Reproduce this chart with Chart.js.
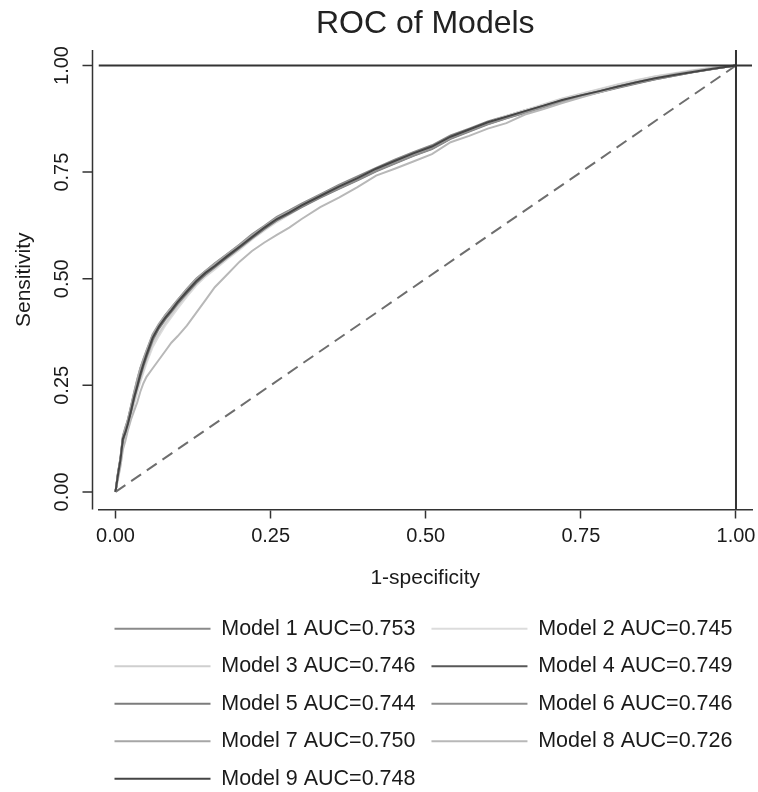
<!DOCTYPE html>
<html>
<head>
<meta charset="utf-8">
<title>ROC of Models</title>
<script src="https://cdn.jsdelivr.net/npm/chart.js@4.4.1/dist/chart.umd.min.js"></script>
<style>
  html, body { margin: 0; padding: 0; background: #fff; }
  canvas { display: block; }
</style>
</head>
<body>
<canvas id="rocChart" width="758" height="792"></canvas>
<script>
// 1-specificity values shared by every curve
const fpr = [0, 0.004, 0.008, 0.012, 0.016, 0.02, 0.025, 0.03, 0.035, 0.04, 0.045, 0.05,
  0.06, 0.07, 0.08, 0.09, 0.10, 0.115, 0.13, 0.145, 0.16, 0.18, 0.20, 0.22, 0.24, 0.26,
  0.28, 0.30, 0.33, 0.36, 0.39, 0.42, 0.45, 0.48, 0.51, 0.54, 0.57, 0.60, 0.63, 0.66,
  0.69, 0.72, 0.75, 0.78, 0.81, 0.84, 0.87, 0.90, 0.93, 0.96, 0.98, 1.0];

// sensitivity for each model at the fpr values above
const tprModel1 = [0, 0.045, 0.08, 0.13, 0.15, 0.17, 0.2, 0.232, 0.262, 0.29, 0.31, 0.33,
  0.368, 0.392, 0.414, 0.432, 0.45, 0.476, 0.5, 0.518, 0.536, 0.558, 0.58, 0.604, 0.624, 0.645,
  0.66, 0.676, 0.698, 0.72, 0.74, 0.76, 0.779, 0.797, 0.813, 0.836, 0.852, 0.869, 0.882, 0.895,
  0.907, 0.92, 0.931, 0.941, 0.952, 0.962, 0.971, 0.979, 0.986, 0.993, 0.997, 1];
const tprModel2 = [0, 0.035, 0.065, 0.11, 0.13, 0.15, 0.178, 0.205, 0.232, 0.258, 0.28, 0.302,
  0.34, 0.366, 0.39, 0.41, 0.43, 0.458, 0.484, 0.505, 0.522, 0.546, 0.568, 0.592, 0.613, 0.633,
  0.65, 0.668, 0.69, 0.712, 0.733, 0.754, 0.772, 0.79, 0.807, 0.83, 0.848, 0.866, 0.882, 0.895,
  0.909, 0.923, 0.934, 0.945, 0.956, 0.966, 0.975, 0.982, 0.989, 0.995, 0.998, 1];
const tprModel3 = [0, 0.038, 0.07, 0.115, 0.135, 0.155, 0.182, 0.21, 0.238, 0.262, 0.285, 0.308,
  0.348, 0.372, 0.395, 0.415, 0.436, 0.462, 0.488, 0.508, 0.525, 0.549, 0.571, 0.594, 0.616, 0.636,
  0.652, 0.669, 0.692, 0.713, 0.734, 0.755, 0.773, 0.791, 0.808, 0.831, 0.849, 0.866, 0.881, 0.894,
  0.908, 0.922, 0.933, 0.944, 0.955, 0.965, 0.974, 0.981, 0.988, 0.994, 0.998, 1];
const tprModel4 = [0, 0.042, 0.076, 0.127, 0.145, 0.163, 0.195, 0.226, 0.253, 0.28, 0.304, 0.326,
  0.365, 0.39, 0.41, 0.428, 0.447, 0.472, 0.496, 0.515, 0.532, 0.555, 0.577, 0.6, 0.622, 0.641,
  0.657, 0.673, 0.695, 0.716, 0.737, 0.757, 0.775, 0.793, 0.809, 0.832, 0.849, 0.866, 0.879, 0.892,
  0.905, 0.918, 0.929, 0.939, 0.95, 0.96, 0.969, 0.977, 0.985, 0.992, 0.996, 1];
const tprModel5 = [0, 0.04, 0.072, 0.12, 0.138, 0.158, 0.188, 0.218, 0.245, 0.27, 0.295, 0.316,
  0.356, 0.383, 0.404, 0.422, 0.441, 0.466, 0.49, 0.51, 0.527, 0.55, 0.572, 0.595, 0.617, 0.637,
  0.652, 0.668, 0.69, 0.711, 0.731, 0.752, 0.77, 0.788, 0.804, 0.828, 0.845, 0.862, 0.876, 0.889,
  0.902, 0.915, 0.927, 0.937, 0.948, 0.958, 0.968, 0.976, 0.984, 0.991, 0.996, 1];
const tprModel6 = [0, 0.043, 0.078, 0.128, 0.148, 0.166, 0.198, 0.228, 0.256, 0.282, 0.306, 0.327,
  0.366, 0.392, 0.412, 0.43, 0.448, 0.473, 0.497, 0.516, 0.533, 0.556, 0.577, 0.6, 0.621, 0.64,
  0.655, 0.67, 0.692, 0.712, 0.732, 0.753, 0.771, 0.789, 0.805, 0.829, 0.846, 0.863, 0.877, 0.89,
  0.903, 0.916, 0.927, 0.938, 0.949, 0.959, 0.968, 0.976, 0.984, 0.991, 0.996, 1];
const tprModel7 = [0, 0.044, 0.08, 0.132, 0.152, 0.17, 0.202, 0.234, 0.264, 0.29, 0.312, 0.332,
  0.37, 0.394, 0.414, 0.432, 0.45, 0.475, 0.499, 0.518, 0.535, 0.557, 0.579, 0.602, 0.623, 0.643,
  0.658, 0.674, 0.696, 0.717, 0.737, 0.757, 0.775, 0.793, 0.809, 0.832, 0.849, 0.866, 0.879, 0.892,
  0.905, 0.918, 0.93, 0.94, 0.951, 0.961, 0.97, 0.978, 0.986, 0.992, 0.996, 1];
const tprModel8 = [0, 0.03, 0.06, 0.1, 0.12, 0.145, 0.17, 0.19, 0.21, 0.235, 0.255, 0.27,
  0.29, 0.31, 0.33, 0.35, 0.365, 0.39, 0.42, 0.45, 0.48, 0.51, 0.54, 0.565, 0.585, 0.603,
  0.62, 0.64, 0.668, 0.69, 0.715, 0.742, 0.758, 0.775, 0.792, 0.82, 0.835, 0.852, 0.865, 0.885,
  0.898, 0.912, 0.925, 0.937, 0.95, 0.96, 0.97, 0.98, 0.987, 0.993, 0.997, 1];
const tprModel9 = [0, 0.04, 0.075, 0.125, 0.14, 0.16, 0.19, 0.222, 0.248, 0.276, 0.3, 0.322,
  0.362, 0.388, 0.408, 0.426, 0.445, 0.47, 0.494, 0.514, 0.53, 0.553, 0.575, 0.598, 0.62, 0.64,
  0.655, 0.672, 0.694, 0.716, 0.736, 0.758, 0.776, 0.794, 0.81, 0.833, 0.85, 0.867, 0.88, 0.893,
  0.906, 0.919, 0.93, 0.94, 0.951, 0.961, 0.97, 0.978, 0.985, 0.992, 0.996, 1];

const modelNames = ['Model 1', 'Model 2', 'Model 3', 'Model 4', 'Model 5',
  'Model 6', 'Model 7', 'Model 8', 'Model 9'];
const aucValues = [0.753, 0.745, 0.746, 0.749, 0.744, 0.746, 0.750, 0.726, 0.748];
const lineColors = ['#8a8a8a', '#dcdcdc', '#cfcfcf', '#585858', '#7c7c7c',
  '#8f8f8f', '#a6a6a6', '#b8b8b8', '#454545'];

const axisTicks = [0, 0.25, 0.5, 0.75, 1];

// axis ranges run a little past 0 and 1 like the stata plot region
const xMin = -0.0274, xMax = 1.0258;
const yMin = -0.0412, yMax = 1.0364;

const axisColor = '#333333';
const textColor = '#1a1a1a';
Chart.defaults.font.family = '"Liberation Sans", Arial, Helvetica, sans-serif';

const tprByModel = [tprModel1, tprModel2, tprModel3, tprModel4, tprModel5,
  tprModel6, tprModel7, tprModel8, tprModel9];

const toPoints = (xs, ys) => xs.map((x, i) => ({ x: x, y: ys[i] }));

const curves = tprByModel.map((tpr, i) => ({
  label: `${modelNames[i]} AUC=${aucValues[i].toFixed(3)}`,
  data: toPoints(fpr, tpr),
  borderColor: lineColors[i],
  backgroundColor: lineColors[i],
  borderWidth: 2,
  pointRadius: 0,
  order: tprByModel.length - i   // later models drawn on top
}));

// reference lines: chance diagonal, sensitivity = 1, 1-specificity = 1
const refLines = [
  {
    label: 'chance',
    data: [{ x: 0, y: 0 }, { x: 1, y: 1 }],
    borderColor: '#6e6e6e',
    borderWidth: 2,
    borderDash: [12, 7],
    pointRadius: 0,
    order: 20
  },
  {
    label: 'yline',
    data: [{ x: xMin, y: 1 }, { x: xMax, y: 1 }],
    borderColor: axisColor,
    borderWidth: 2,
    pointRadius: 0,
    order: 0
  },
  {
    label: 'xline',
    data: [{ x: 1, y: yMin }, { x: 1, y: yMax }],
    borderColor: axisColor,
    borderWidth: 2,
    pointRadius: 0,
    order: 0
  }
];

// y axis in stata sits a few px left of the plot region
const leftAxis = {
  id: 'leftAxis',
  afterDraw(chart) {
    const { ctx, chartArea, scales } = chart;
    const ax = chartArea.left - 6;
    ctx.save();
    ctx.strokeStyle = axisColor;
    ctx.lineWidth = 1.5;
    ctx.beginPath();
    ctx.moveTo(ax, chartArea.top);
    ctx.lineTo(ax, chartArea.bottom);
    axisTicks.forEach((v) => {
      const py = scales.y.getPixelForValue(v);
      ctx.moveTo(ax - 10, py);
      ctx.lineTo(ax, py);
    });
    ctx.stroke();
    ctx.restore();
  }
};

const setTicks = (scale) => {
  scale.ticks = axisTicks.map((v) => ({ value: v }));
};

new Chart(document.getElementById('rocChart'), {
  type: 'line',
  data: { datasets: [...curves, ...refLines] },
  plugins: [leftAxis],
  options: {
    responsive: false,
    animation: false,
    devicePixelRatio: 1,
    layout: { padding: { top: 0, right: 6, bottom: -7.5, left: 0 } },
    scales: {
      x: {
        type: 'linear',
        min: xMin,
        max: xMax,
        afterBuildTicks: setTicks,
        afterFit: (s) => { s.paddingLeft = 0; s.paddingRight = 0; },
        ticks: {
          callback: (v) => v.toFixed(2),
          font: { size: 20 },
          color: textColor,
          padding: 6,
          maxRotation: 0,
          autoSkip: false
        },
        grid: {
          drawOnChartArea: false,
          drawTicks: true,
          tickLength: 9,
          tickColor: axisColor,
          tickWidth: 1.5
        },
        border: { display: true, color: axisColor, width: 1.5 },
        title: {
          display: true,
          text: '1-specificity',
          font: { size: 21 },
          color: textColor,
          padding: { top: 10.9, bottom: 11.4 }
        }
      },
      y: {
        type: 'linear',
        min: yMin,
        max: yMax,
        afterBuildTicks: setTicks,
        afterFit: (s) => { s.paddingTop = 0; s.paddingBottom = 0; },
        ticks: {
          callback: (v) => v.toFixed(2),
          font: { size: 20 },
          color: textColor,
          padding: 16.5,
          minRotation: 90,
          maxRotation: 90,
          crossAlign: 'center',
          autoSkip: false
        },
        grid: { display: false, drawTicks: false },
        border: { display: false },
        title: {
          display: true,
          text: 'Sensitivity',
          font: { size: 21 },
          color: textColor,
          padding: { top: 11.4, bottom: 4.9 }
        }
      }
    },
    plugins: {
      title: {
        display: true,
        text: 'ROC of Models',
        fullSize: false,
        color: '#222222',
        font: { size: 32, weight: 'normal' },
        padding: { top: 4.8, bottom: 6.8 }
      },
      legend: {
        position: 'bottom',
        align: 'start',
        fullSize: false,
        labels: {
          usePointStyle: true,
          pointStyle: 'line',
          pointStyleWidth: 96,
          padding: 16,
          color: textColor,
          font: { size: 21.5 },
          filter: (item) => item.datasetIndex < tprByModel.length,
          sort: (a, b) => a.datasetIndex - b.datasetIndex
        }
      },
      tooltip: { enabled: false }
    }
  }
});
</script>
</body>
</html>
